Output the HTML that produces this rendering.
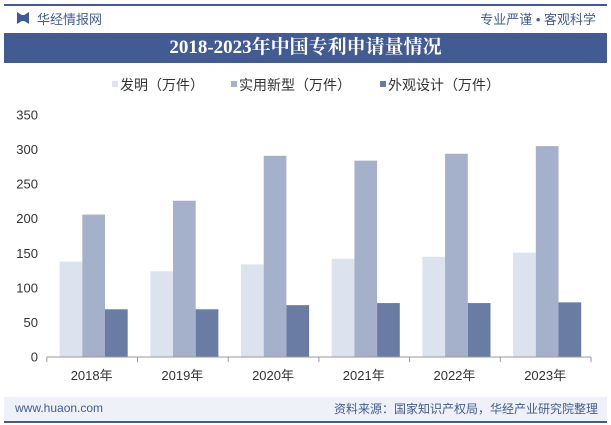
<!DOCTYPE html>
<html><head><meta charset="utf-8"><style>
body{margin:0;width:611px;height:425px;background:#fff;font-family:"Liberation Sans","Noto Sans CJK SC",sans-serif;position:relative;overflow:hidden}
.abs{position:absolute}
</style></head><body>
<div class="abs" style="left:4px;top:4px;width:603px;height:2px;background:#435b93"></div>
<div class="abs" style="left:17px;top:12px;width:12px;height:12px;background:#435b93;clip-path:polygon(0 0,40% 25%,60% 25%,100% 0,100% 100%,60% 75%,40% 75%,0 100%)"></div>
<div class="abs" style="left:37px;top:9px;font-size:13px;color:#435b93">华经情报网</div>
<div class="abs" style="right:15px;top:9px;font-size:13px;color:#435b93">专业严谨 • 客观科学</div>
<div class="abs" style="left:4px;top:33px;width:603px;height:30px;background:#435b93;color:#fff;font-family:'Liberation Serif','Noto Serif CJK SC',serif;font-weight:bold;font-size:19px;text-align:center;line-height:30px">2018-2023年中国专利申请量情况</div>
<svg class="abs" style="left:0;top:0" width="611" height="425" id="chart"></svg>
<div class="abs" style="left:4px;top:397px;width:603px;height:24px;background:#eef1f7"></div>
<div class="abs" style="left:4px;top:421px;width:603px;height:2px;background:#435b93"></div>
<div class="abs" style="left:15px;top:401px;font-size:12px;color:#435b93">www.huaon.com</div>
<div class="abs" style="right:13px;top:400px;font-size:12px;color:#435b93">资料来源：国家知识产权局，华经产业研究院整理</div>
<script>
const categories=["2018年","2019年","2020年","2021年","2022年","2023年"];
const seriesNames=["发明（万件）","实用新型（万件）","外观设计（万件）"];
const invention=[138,124,134,142,145,151];
const utility=[206,226,291,284,294,305];
const design=[69,69,75,78,78,79];
const yTicks=[0,50,100,150,200,250,300,350];
const colors=["#dde3ee","#a5b1ca","#6a7ca3"];
const svg=document.getElementById('chart');
const NS="http://www.w3.org/2000/svg";
const x0=46.8,cw=90.7,y0=357,ppu=242/350,bw=22.7;
const y=v=>y0-v*ppu;
function mk(t,a,txt){const e=document.createElementNS(NS,t);for(const k in a)e.setAttribute(k,a[k]);if(txt!==undefined)e.textContent=txt;svg.appendChild(e);return e;}
yTicks.forEach(v=>{
  const t=mk('text',{x:38,y:y(v)+4.5,'text-anchor':'end','font-size':13,fill:'#333'},v);
  
  
});
const all=[invention,utility,design];
categories.forEach((c,i)=>{
  const cx=x0+cw*(i+0.5)+1.5;
  all.forEach((s,j)=>{
    const r=mk('rect',{x:cx+(j-1.5)*bw,y:y(s[i]),width:bw,height:s[i]*ppu,fill:colors[j]});
    
    
  });
  const t=mk('text',{x:cx-2,y:380,'text-anchor':'middle','font-size':13,fill:'#333'},c);
  
  
});
const ax=mk('line',{x1:x0,x2:x0+cw*6,y1:y0,y2:y0,stroke:'#999'});


for(let i=0;i<=6;i++){
  const tk=mk('line',{x1:x0+cw*i,x2:x0+cw*i,y1:y0,y2:y0+5,stroke:'#999'});
  
  
}
const lx=[112,231,380];
seriesNames.forEach((n,j)=>{
  const r=mk('rect',{x:lx[j],y:81,width:6,height:6,fill:colors[j]});
  
  
  const t=mk('text',{x:lx[j]+8,y:90,'font-size':14,fill:'#333'},n);
  
  
});
</script>
</body></html>
